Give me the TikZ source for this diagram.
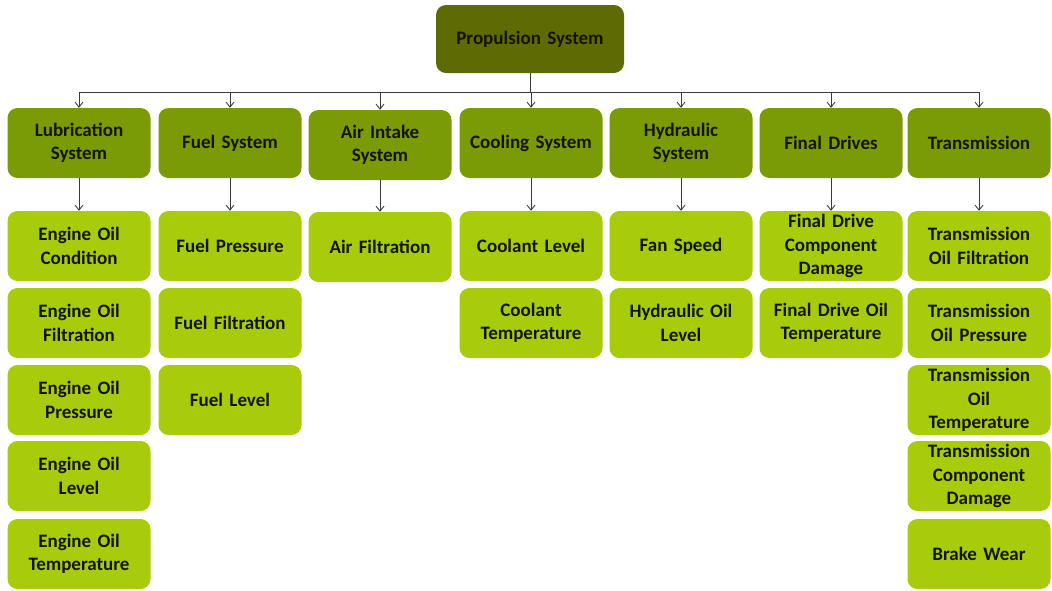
\documentclass[tikz,border=0pt]{standalone}
\usepackage{fontspec}
\setmainfont{Carlito}
\usetikzlibrary{arrows.meta}
\definecolor{rootfill}{HTML}{5E6B02}
\definecolor{midfill}{HTML}{7A9A06}
\definecolor{leaffill}{HTML}{A8CC0C}
\definecolor{txt}{HTML}{141404}
\definecolor{wire}{HTML}{3A3A3A}
\tikzset{
  box/.style={rectangle, rounded corners=10pt, minimum width=143pt, minimum height=70pt,
    text width=140pt, align=center, inner sep=0pt, text=txt,
    font=\bfseries\fontsize{19}{23.5}\selectfont},
  rootbox/.style={box, fill=rootfill, minimum width=188pt, minimum height=68pt, text width=180pt},
  midbox/.style={box, fill=midfill},
  leafbox/.style={box, fill=leaffill},
  arr/.style={draw=wire, line width=0.9pt, -{Straight Barb[length=5pt,width=8pt]}},
  wirel/.style={draw=wire, line width=0.9pt}
}
\begin{document}
\begin{tikzpicture}[x=1pt,y=-1pt]
\useasboundingbox (0,0) rectangle (1052,590);
% root
\node[rootbox] (root) at (530,39) {Propulsion System};
% second level
\node[midbox] (lub) at (79,143) {Lubrication\\System};
\node[midbox] (fuel) at (230,143) {Fuel System};
\node[midbox] (air) at (380,145) {Air Intake\\System};
\node[midbox] (cool) at (531,143) {Cooling System};
\node[midbox] (hyd) at (681,143) {Hydraulic\\System};
\node[midbox] (fin) at (831,143) {Final Drives};
\node[midbox] (trans) at (979,143) {Transmission};
% leaves: lubrication
\node[leafbox] (l1) at (79,246) {Engine Oil\\Condition};
\node[leafbox] (l2) at (79,323) {Engine Oil\\Filtration};
\node[leafbox] (l3) at (79,400) {Engine Oil\\Pressure};
\node[leafbox] (l4) at (79,476) {Engine Oil\\Level};
\node[leafbox] (l5) at (79,554) {Engine Oil\\Temperature};
% leaves: fuel
\node[leafbox] (f1) at (230,246) {Fuel Pressure};
\node[leafbox] (f2) at (230,323) {Fuel Filtration};
\node[leafbox] (f3) at (230,400) {Fuel Level};
% leaves: air intake
\node[leafbox] (a1) at (380,247) {Air Filtration};
% leaves: cooling
\node[leafbox] (c1) at (531,246) {Coolant Level};
\node[leafbox] (c2) at (531,323) {Coolant\\Temperature};
% leaves: hydraulic
\node[leafbox] (h1) at (681,246) {Fan Speed};
\node[leafbox] (h2) at (681,323) {Hydraulic Oil\\Level};
% leaves: final drives
\node[leafbox] (d1) at (831,246) {Final Drive\\Component\\Damage};
\node[leafbox] (d2) at (831,323) {Final Drive Oil\\Temperature};
% leaves: transmission
\node[leafbox] (t1) at (979,246) {Transmission\\Oil Filtration};
\node[leafbox] (t2) at (979,323) {Transmission\\Oil Pressure};
\node[leafbox] (t3) at (979,400) {Transmission\\Oil\\Temperature};
\node[leafbox] (t4) at (979,476) {Transmission\\Component\\Damage};
\node[leafbox] (t5) at (979,554) {Brake Wear};
% bus from root to second level
\coordinate (bus) at (530,92);
\draw[wirel] (root.south) -- (bus);
\foreach \n in {lub,fuel,air,cool,hyd,fin,trans}
  \draw[arr] (bus) -| (\n.north);
% second level to first leaf
\draw[arr] (lub.south) -- (l1.north);
\draw[arr] (fuel.south) -- (f1.north);
\draw[arr] (air.south) -- (a1.north);
\draw[arr] (cool.south) -- (c1.north);
\draw[arr] (hyd.south) -- (h1.north);
\draw[arr] (fin.south) -- (d1.north);
\draw[arr] (trans.south) -- (t1.north);
\end{tikzpicture}
\end{document}
